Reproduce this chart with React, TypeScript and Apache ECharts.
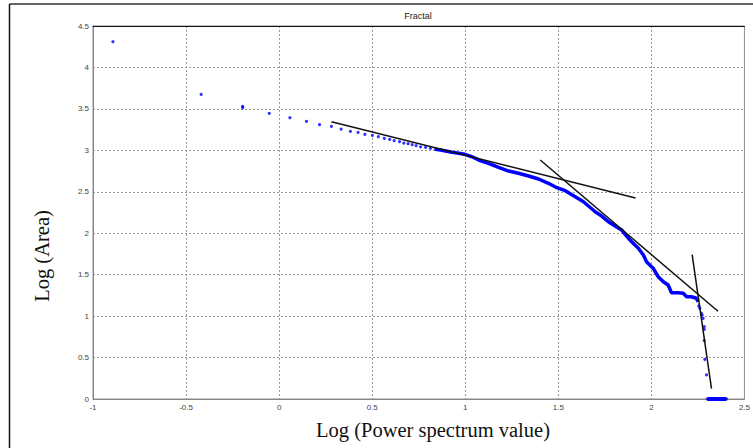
import React, { useEffect, useRef } from "react";
import * as echarts from "echarts";

// Sparse individual points (Log power spectrum value, Log area)
const sparsePoints: [number, number][] = [
  [-0.893, 4.31], [-0.419, 3.675], [-0.196, 3.53], [-0.196, 3.515],
  [-0.053, 3.446], [0.058, 3.393], [0.147, 3.35], [0.217, 3.31],
  [0.281, 3.29], [0.333, 3.257], [0.383, 3.229], [0.424, 3.217],
  [0.461, 3.193], [0.501, 3.181], [0.533, 3.164], [0.565, 3.145],
  [0.594, 3.133], [0.618, 3.116], [0.647, 3.104], [0.67, 3.088],
  [0.693, 3.08], [0.715, 3.068], [0.736, 3.056], [0.76, 3.043],
  [0.787, 3.036], [0.813, 3.024], [0.84, 3.012],
];

// Dense part of the curve (points so close they form a thick line)
const densePoints: [number, number][] = [
  [0.84, 3.012], [0.867, 3.004], [0.894, 2.992], [0.929, 2.976], [0.965, 2.964],
  [0.997, 2.952], [1.036, 2.923], [1.063, 2.895], [1.072, 2.883], [1.125, 2.843],
  [1.179, 2.795], [1.233, 2.75], [1.286, 2.723], [1.34, 2.69], [1.394, 2.654],
  [1.447, 2.602], [1.492, 2.549], [1.537, 2.513], [1.591, 2.44], [1.635, 2.38],
  [1.662, 2.328], [1.698, 2.259], [1.733, 2.207], [1.769, 2.139], [1.805, 2.087],
  [1.84, 2.039], [1.867, 1.966], [1.894, 1.897], [1.93, 1.818], [1.957, 1.737],
  [1.974, 1.656], [2.001, 1.596], [2.01, 1.577], [2.037, 1.475], [2.064, 1.415],
  [2.09, 1.375], [2.108, 1.282], [2.144, 1.282], [2.171, 1.275], [2.189, 1.234],
  [2.215, 1.234], [2.242, 1.215], [2.251, 1.174],
];

// Points on the steep drop
const dropPoints: [number, number][] = [
  [2.255, 1.122], [2.26, 1.094], [2.269, 1.034], [2.273, 1.013], [2.278, 0.973],
  [2.284, 0.872], [2.284, 0.841], [2.284, 0.703], [2.287, 0.479], [2.296, 0.29],
];

// Points lying on zero
const floorPoints: [number, number][] = [
  [2.301, 0], [2.35, 0], [2.403, 0],
];

// Fitted straight lines
const fitLine1: [number, number][] = [[0.281, 3.345], [1.915, 2.425]];
const fitLine2: [number, number][] = [[1.403, 2.883], [2.358, 1.058]];
const fitLine3: [number, number][] = [[2.219, 1.741], [2.323, 0.124]];

const xTicks = { min: -1, max: 2.5, interval: 0.5 };
const yTicks = { min: 0, max: 4.5, interval: 0.5 };

const BLUE = "#0000ff";

export default function App() {
  const ref = useRef<HTMLDivElement>(null);

  useEffect(() => {
    if (!ref.current) return;
    const chart = echarts.init(ref.current, undefined, { renderer: "svg" });
    const grid = { left: 93, top: 26, right: 7, bottom: 49 };
    const labelStyle = {
      fontSize: 8,
      color: "#444",
      fontFamily: "Liberation Sans, Arial, sans-serif",
    };
    const fit = (data: [number, number][]) => ({
      type: "line",
      data,
      showSymbol: false,
      symbol: "none",
      lineStyle: { color: "#111", width: 1.5 },
      z: 5,
      silent: true,
    });
    chart.setOption({
      animation: false,
      backgroundColor: "#fff",
      grid: { ...grid, show: true, borderColor: "#888", borderWidth: 1 },
      xAxis: [
        {
          type: "value",
          ...xTicks,
          axisLine: { show: true, onZero: false, lineStyle: { color: "#888" } },
          axisTick: { show: false },
          axisLabel: { ...labelStyle, margin: 4 },
          splitLine: {
            show: true,
            lineStyle: { color: "#999", type: [2, 2], width: 1 },
          },
        },
        {
          type: "value",
          position: "top",
          ...xTicks,
          axisLine: { show: true, onZero: false, lineStyle: { color: "#111" } },
          axisTick: { show: false },
          axisLabel: { show: false },
          splitLine: { show: false },
        },
      ],
      yAxis: {
        type: "value",
        ...yTicks,
        axisLine: { show: true, onZero: false, lineStyle: { color: "#888" } },
        axisTick: { show: false },
        axisLabel: { ...labelStyle, margin: 4 },
        splitLine: {
          show: true,
          lineStyle: { color: "#999", type: [2, 2], width: 1 },
        },
      },
      series: [
        {
          type: "line",
          data: densePoints,
          showSymbol: false,
          symbol: "none",
          lineStyle: { color: BLUE, width: 3.5 },
          z: 3,
        },
        {
          type: "line",
          data: floorPoints,
          showSymbol: false,
          symbol: "none",
          lineStyle: { color: BLUE, width: 4 },
          z: 3,
        },
        {
          type: "scatter",
          data: [...sparsePoints, ...dropPoints, ...floorPoints],
          symbol: "circle",
          symbolSize: 3.2,
          itemStyle: { color: BLUE },
          z: 4,
        },
        fit(fitLine1),
        fit(fitLine2),
        fit(fitLine3),
      ],
      graphic: [
        {
          type: "line",
          shape: { x1: 9.5, y1: 4, x2: 753, y2: 4 },
          style: { stroke: "#333", lineWidth: 1.5 },
        },
        {
          type: "line",
          shape: { x1: 9.5, y1: 4, x2: 9.5, y2: 448 },
          style: { stroke: "#111", lineWidth: 1.5 },
        },
        {
          type: "text",
          x: 418,
          y: 16,
          style: {
            text: "Fractal",
            fontSize: 9,
            fill: "#222",
            fontFamily: "Liberation Sans, Arial, sans-serif",
            textAlign: "center",
            textVerticalAlign: "middle",
          },
        },
        {
          type: "text",
          x: 433,
          y: 430,
          style: {
            text: "Log (Power spectrum value)",
            fontSize: 20.5,
            fill: "#111",
            fontFamily: "Liberation Serif, Times New Roman, serif",
            textAlign: "center",
            textVerticalAlign: "middle",
          },
        },
        {
          type: "text",
          x: 42,
          y: 256,
          rotation: Math.PI / 2,
          style: {
            text: "Log (Area)",
            fontSize: 20.5,
            fill: "#111",
            fontFamily: "Liberation Serif, Times New Roman, serif",
            textAlign: "center",
            textVerticalAlign: "middle",
          },
        },
      ],
    });
    return () => chart.dispose();
  }, []);

  return (
    <div
      ref={ref}
      style={{ position: "fixed", left: 0, top: 0, width: 753, height: 448 }}
    />
  );
}
